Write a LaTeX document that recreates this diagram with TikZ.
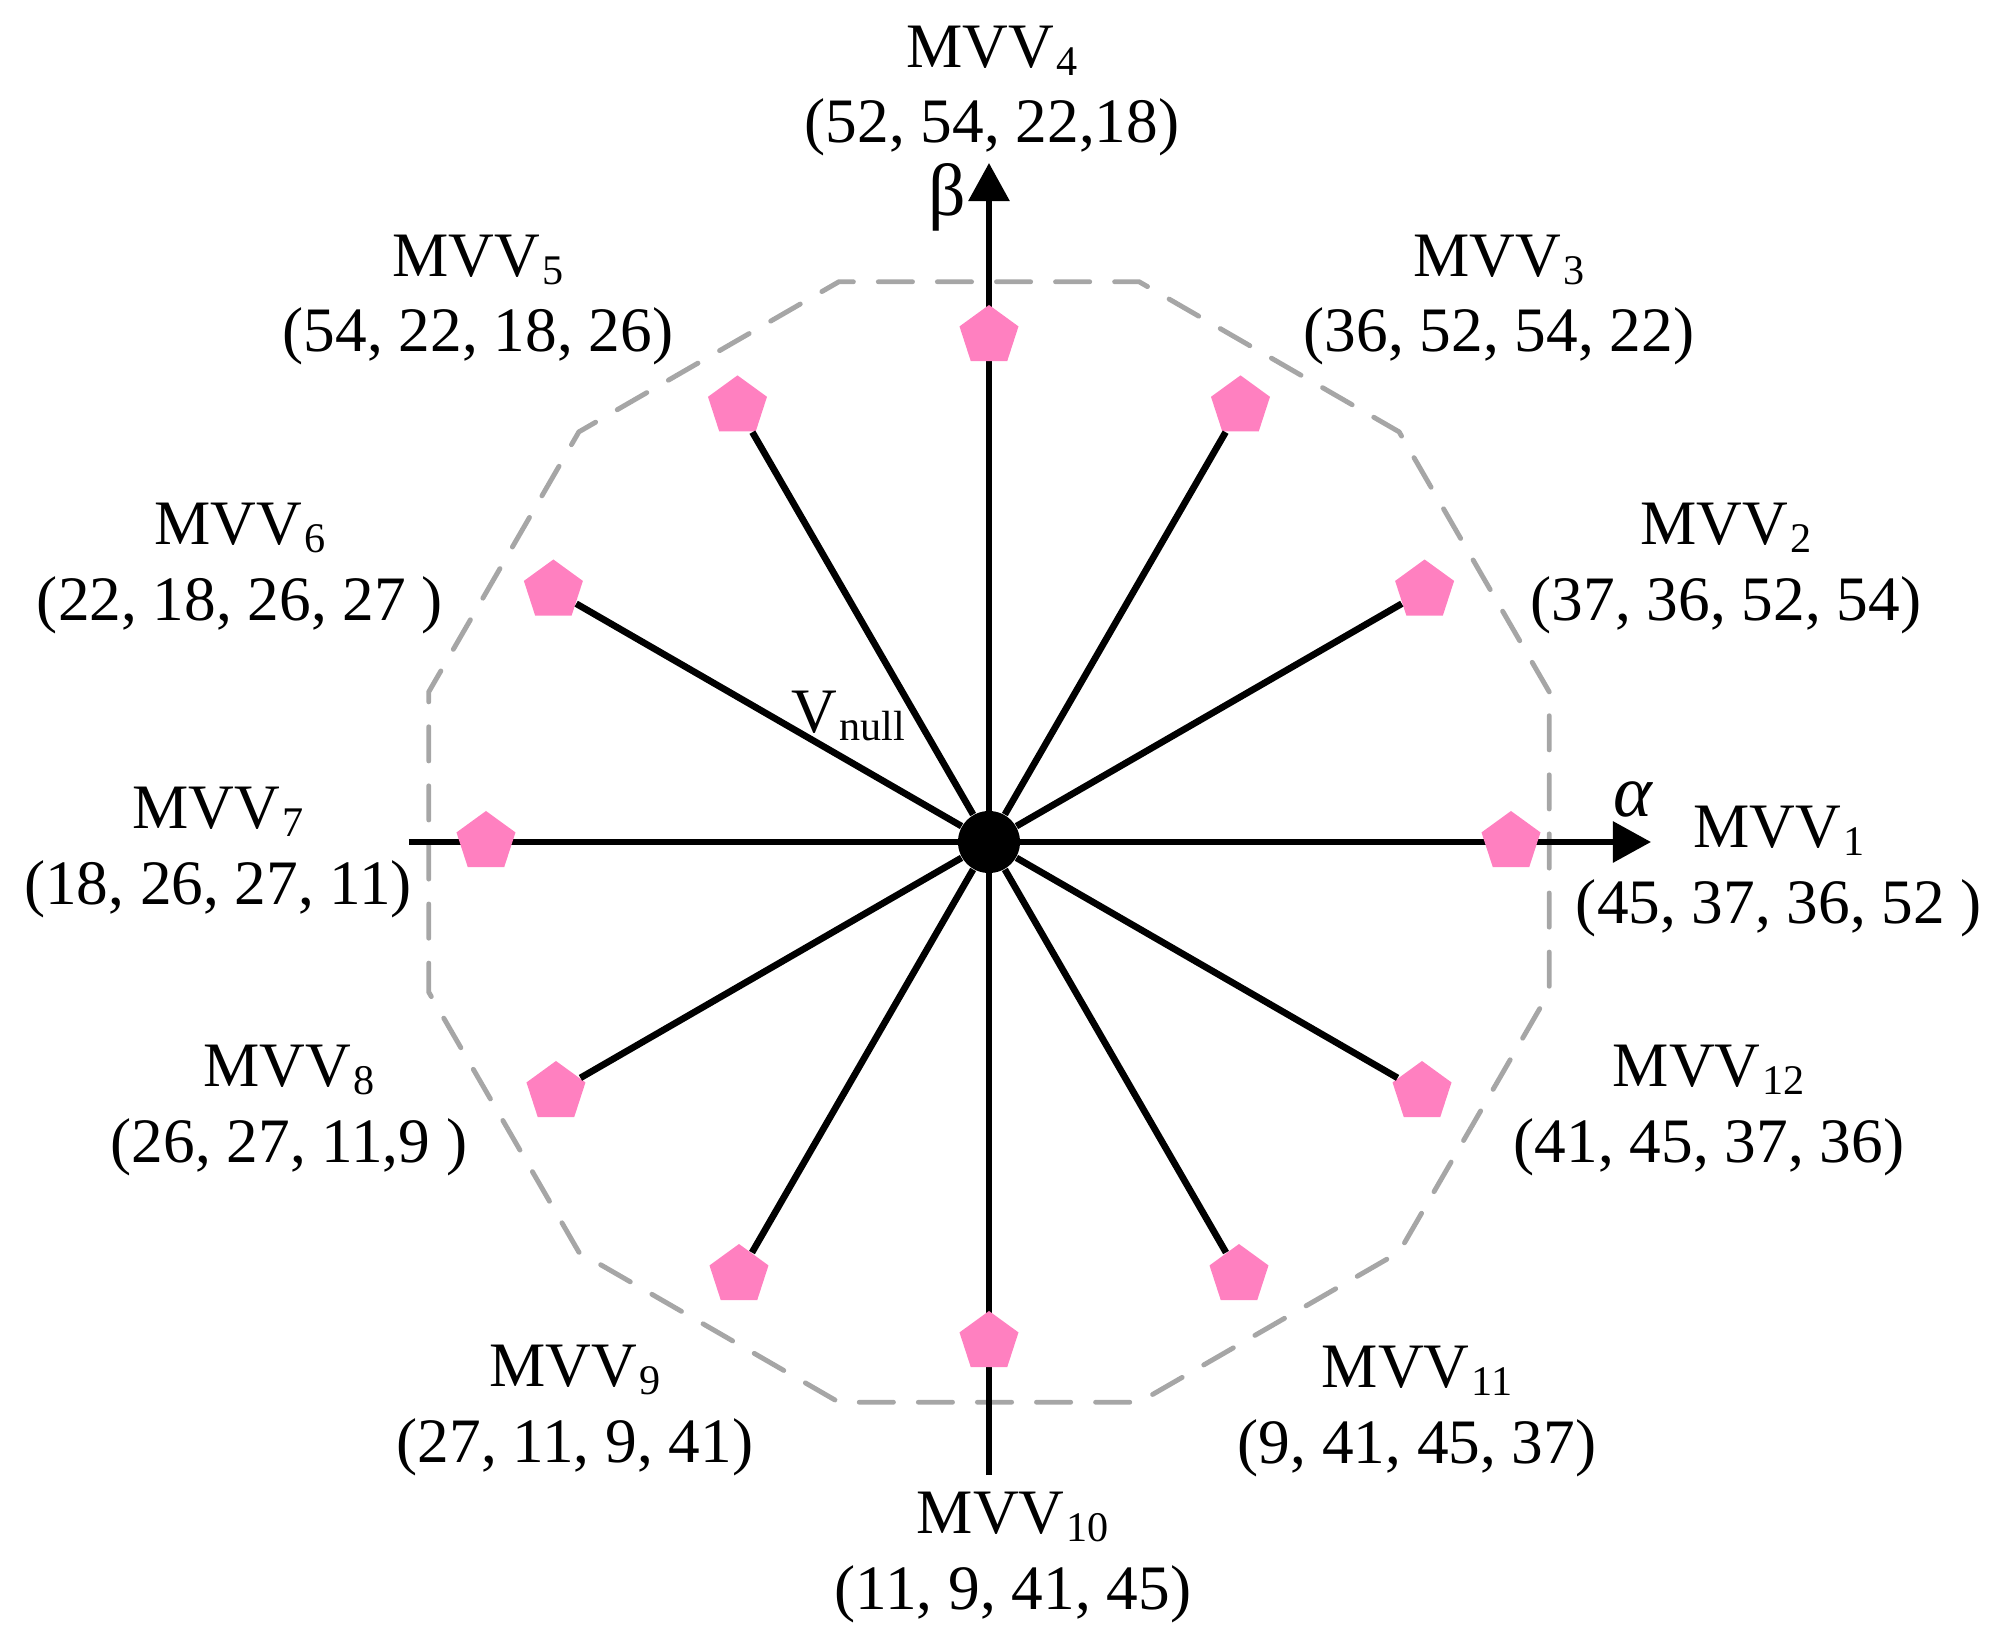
\documentclass[tikz,border=0pt]{standalone}
\usepackage{fontspec}
\setmainfont{Liberation Serif}
\usetikzlibrary{shapes.geometric,arrows.meta}
\definecolor{mvvpink}{RGB}{255,128,192}
\definecolor{hullgray}{RGB}{166,166,166}
\newcommand{\lsub}[1]{\kern0.6pt\raisebox{-2.3pt}{\fontsize{12}{12}\selectfont #1}}

\begin{document}
\begin{tikzpicture}[x=0.01cm,y=0.01cm]
        \tikzstyle{vec}=[regular polygon,regular polygon sides=5,fill=mvvpink,inner sep=0pt,minimum size=0.62cm]
        \tikzstyle{spoke}=[draw,line width=1.9pt]
        \tikzstyle{axis}=[draw,line width=1.7pt,-{Triangle[length=0.38cm,width=0.40cm]}]
        \tikzstyle{lbl}=[align=center,anchor=base,inner sep=0pt,font=\fontsize{18}{21.6}\selectfont]
        \tikzstyle{greek}=[inner sep=0pt,font=\fontsize{21}{21}\selectfont]
        \tikzstyle{hull}=[draw=hullgray,line width=1.4pt,dash pattern=on 9.7pt off 7.1pt,line cap=round,line join=round]
        \useasboundingbox (-989,-797) rectangle (1011,842);
       \begin{scope}
         % dashed boundary
         \path[hull] (15:580) \foreach \a in {45,75,...,345} {-- (\a:580)} -- cycle;

         % axes
         \coordinate (aW) at (-580,0);
         \coordinate (aE) at (662,0);
         \coordinate (bS) at (0,-633);
         \coordinate (bN) at (0,679);
         \path[axis] (aW) -- (aE);
         \path[axis] (bS) -- (bN);
         \node [greek] (alpha) at (644,43) {\itshape α};
         \node [greek] (beta) at (-42,645) {β};

         \node [circle,fill=black,inner sep=0pt,minimum size=0.62cm] (o) at (0,0) {};

         \node [vec] (p1) at (0:522) {};
         \node [vec] (p2) at (30:503) {};
         \node [vec] (p3) at (60:503) {};
         \node [vec] (p4) at (90:506) {};
         \node [vec] (p5) at (120:503) {};
         \node [vec] (p6) at (150:503) {};
         \node [vec] (p7) at (180:503) {};
         \node [vec] (p8) at (210:500) {};
         \node [vec] (p9) at (240:500) {};
         \node [vec] (p10) at (270:500) {};
         \node [vec] (p11) at (300:500) {};
         \node [vec] (p12) at (330:500) {};

         \path[spoke] (o) -- (p2);
         \path[spoke] (o) -- (p3);
         \path[spoke] (o) -- (p5);
         \path[spoke] (o) -- (p6);
         \path[spoke] (o) -- (p8);
         \path[spoke] (o) -- (p9);
         \path[spoke] (o) -- (p11);
         \path[spoke] (o) -- (p12);

         % base = baseline of the second line
         \node [lbl] (l1) at (790,-81) {MVV\lsub{1}\\(45, 37, 36, 52 )};
         \node [lbl] (l2) at (737,222) {MVV\lsub{2}\\(37, 36, 52, 54)};
         \node [lbl] (l3) at (510,490) {MVV\lsub{3}\\(36, 52, 54, 22)};
         \node [lbl] (l4) at (3,699) {MVV\lsub{4}\\(52, 54, 22,18)};
         \node [lbl] (l5) at (-511,490) {MVV\lsub{5}\\(54, 22, 18, 26)};
         \node [lbl] (l6) at (-749,222) {MVV\lsub{6}\\(22, 18, 26, 27 )};
         \node [lbl] (l7) at (-771,-62) {MVV\lsub{7}\\(18, 26, 27, 11)};
         \node [lbl] (l8) at (-700,-320) {MVV\lsub{8}\\(26, 27, 11,9 )};
         \node [lbl] (l9) at (-414,-620) {MVV\lsub{9}\\(27, 11, 9, 41)};
         \node [lbl] (l10) at (24,-767) {MVV\lsub{10}\\(11, 9, 41, 45)};
         \node [lbl] (l11) at (428,-621) {MVV\lsub{11}\\(9, 41, 45, 37)};
         \node [lbl] (l12) at (720,-320) {MVV\lsub{12}\\(41, 45, 37, 36)};

         \node [inner sep=0pt,anchor=base west,font=\fontsize{18}{18}\selectfont] (vn) at (-198,110) {V\lsub{null}};
        \end{scope}
      \end{tikzpicture}
\end{document}
